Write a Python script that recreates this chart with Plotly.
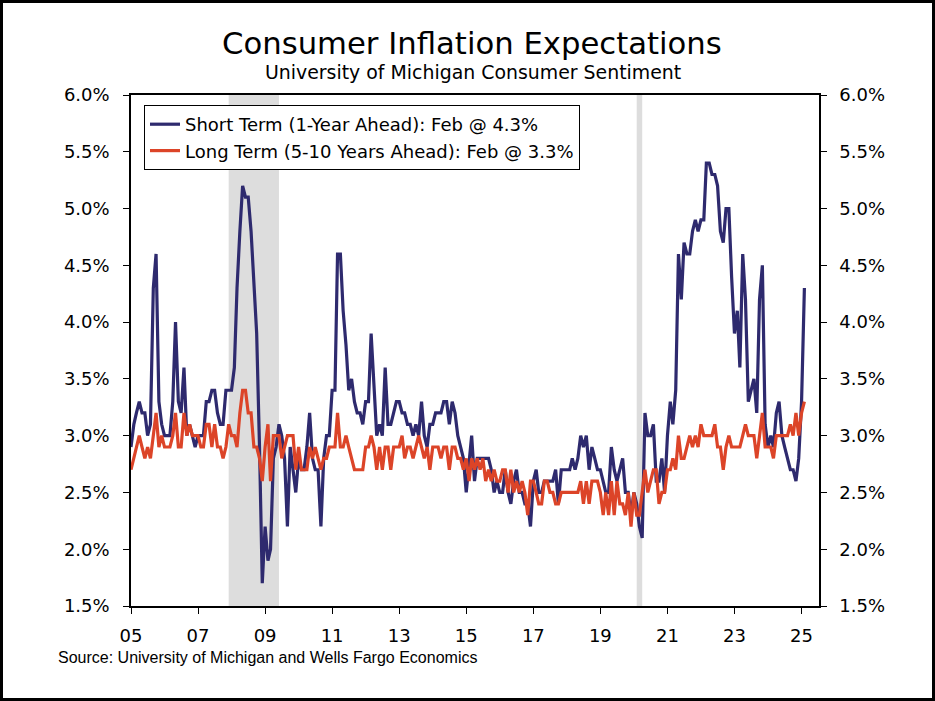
import pandas as pd
import plotly.graph_objects as go

# ---------------- data (monthly, Jan 2005 - Feb 2025) ----------------
short_term = [
    2.9, 3.1, 3.2, 3.3, 3.2, 3.2, 3.0, 3.1, 4.3, 4.6, 3.3, 3.1,   # 2005
    3.0, 3.0, 3.0, 3.3, 4.0, 3.3, 3.2, 3.6, 3.0, 3.1, 3.0, 2.9,   # 2006
    3.0, 3.0, 3.0, 3.3, 3.3, 3.4, 3.4, 3.2, 3.1, 3.1, 3.4, 3.4,   # 2007
    3.4, 3.6, 4.3, 4.8, 5.2, 5.1, 5.1, 4.8, 4.3, 3.9, 2.9, 1.7,   # 2008
    2.2, 1.9, 2.0, 2.8, 2.9, 3.1, 3.0, 2.8, 2.2, 2.9, 2.7, 2.5,   # 2009
    2.8, 2.7, 2.7, 2.9, 3.2, 2.8, 2.7, 2.7, 2.2, 2.8, 3.0, 3.0,   # 2010
    3.4, 3.4, 4.6, 4.6, 4.1, 3.8, 3.4, 3.5, 3.3, 3.2, 3.2, 3.1,   # 2011
    3.3, 3.3, 3.9, 3.4, 3.0, 3.1, 3.0, 3.6, 3.1, 3.1, 3.2, 3.3,   # 2012
    3.3, 3.2, 3.2, 3.1, 3.1, 3.0, 3.1, 3.0, 3.3, 3.0, 2.9, 3.1,   # 2013
    3.1, 3.2, 3.2, 3.2, 3.3, 3.3, 3.1, 3.3, 3.2, 3.0, 2.9, 2.8,   # 2014
    2.5, 2.8, 3.0, 2.6, 2.8, 2.8, 2.8, 2.8, 2.8, 2.7, 2.5, 2.6,   # 2015
    2.5, 2.5, 2.7, 2.5, 2.4, 2.6, 2.7, 2.5, 2.5, 2.4, 2.4, 2.2,   # 2016
    2.6, 2.7, 2.5, 2.5, 2.6, 2.6, 2.6, 2.6, 2.7, 2.4, 2.7, 2.7,   # 2017
    2.7, 2.7, 2.8, 2.7, 2.8, 3.0, 2.9, 3.0, 2.7, 2.9, 2.8, 2.7,   # 2018
    2.7, 2.6, 2.5, 2.5, 2.9, 2.7, 2.6, 2.7, 2.8, 2.5, 2.5, 2.3,   # 2019
    2.5, 2.4, 2.2, 2.1, 3.2, 3.0, 3.0, 3.1, 2.6, 2.6, 2.8, 2.5,   # 2020
    3.0, 3.3, 3.1, 3.4, 4.6, 4.2, 4.7, 4.6, 4.6, 4.8, 4.9, 4.8,   # 2021
    4.9, 4.9, 5.4, 5.4, 5.3, 5.3, 5.2, 4.8, 4.7, 5.0, 5.0, 4.4,   # 2022
    3.9, 4.1, 3.6, 4.6, 4.2, 3.3, 3.4, 3.5, 3.2, 4.2, 4.5, 3.1,   # 2023
    2.9, 3.0, 2.9, 3.2, 3.3, 3.0, 2.9, 2.8, 2.7, 2.7, 2.6, 2.8,   # 2024
    3.3, 4.3,                                                     # 2025
]

long_term = [
    2.7, 2.8, 2.9, 3.0, 2.9, 2.8, 2.9, 2.8, 3.0, 3.2, 2.9, 3.0,   # 2005
    2.9, 2.9, 2.9, 3.0, 3.2, 2.9, 2.9, 3.2, 3.0, 3.1, 3.0, 3.0,   # 2006
    3.0, 2.9, 2.9, 3.1, 3.1, 2.9, 3.1, 2.9, 2.9, 2.8, 2.9, 3.1,   # 2007
    3.0, 3.0, 2.9, 3.2, 3.4, 3.4, 3.2, 3.2, 2.9, 2.9, 2.8, 2.6,   # 2008
    2.9, 3.1, 2.6, 3.0, 3.0, 3.0, 2.8, 2.9, 3.0, 3.0, 3.0, 2.7,   # 2009
    2.9, 2.7, 2.7, 2.7, 2.9, 2.8, 2.9, 2.8, 2.7, 2.8, 2.8, 2.9,   # 2010
    2.9, 2.9, 3.2, 2.9, 2.9, 3.0, 2.9, 2.8, 2.7, 2.7, 2.7, 2.7,   # 2011
    2.9, 2.9, 3.0, 2.9, 2.7, 2.9, 2.7, 2.9, 2.9, 2.7, 2.9, 2.9,   # 2012
    2.9, 3.0, 2.8, 2.9, 2.9, 2.8, 2.9, 3.0, 2.9, 2.8, 2.9, 2.7,   # 2013
    2.9, 2.9, 2.9, 2.8, 2.9, 2.9, 2.7, 2.9, 2.9, 2.8, 2.8, 2.7,   # 2014
    2.8, 2.6, 2.8, 2.7, 2.8, 2.7, 2.8, 2.6, 2.7, 2.6, 2.7, 2.6,   # 2015
    2.6, 2.7, 2.7, 2.5, 2.7, 2.5, 2.6, 2.5, 2.6, 2.5, 2.3, 2.6,   # 2016
    2.6, 2.5, 2.4, 2.4, 2.6, 2.6, 2.5, 2.5, 2.4, 2.4, 2.5, 2.5,   # 2017
    2.5, 2.5, 2.5, 2.5, 2.5, 2.6, 2.4, 2.6, 2.4, 2.6, 2.6, 2.6,   # 2018
    2.5, 2.3, 2.5, 2.3, 2.6, 2.3, 2.6, 2.4, 2.4, 2.3, 2.5, 2.2,   # 2019
    2.5, 2.3, 2.3, 2.5, 2.7, 2.5, 2.6, 2.7, 2.7, 2.4, 2.5, 2.5,   # 2020
    2.7, 2.7, 2.8, 2.7, 3.0, 2.8, 2.8, 2.9, 3.0, 2.9, 3.0, 2.9,   # 2021
    3.1, 3.0, 3.0, 3.0, 3.0, 3.1, 2.9, 2.9, 2.7, 2.9, 3.0, 2.9,   # 2022
    2.9, 2.9, 2.9, 3.0, 3.1, 3.0, 3.0, 3.0, 2.8, 3.0, 3.2, 2.9,   # 2023
    2.9, 2.9, 2.8, 3.0, 3.0, 3.0, 3.0, 3.0, 3.1, 3.0, 3.2, 3.0,   # 2024
    3.2, 3.3,                                                     # 2025
]

dates = pd.date_range("2005-01-01", periods=len(short_term), freq="MS")

x_tick_vals = [f"{y}-01-01" for y in range(2005, 2026, 2)]
x_tick_text = ["05", "07", "09", "11", "13", "15", "17", "19", "21", "23", "25"]
y_tick_vals = [1.5, 2.0, 2.5, 3.0, 3.5, 4.0, 4.5, 5.0, 5.5, 6.0]
y_tick_text = ["1.5%", "2.0%", "2.5%", "3.0%", "3.5%", "4.0%", "4.5%", "5.0%", "5.5%", "6.0%"]

recessions = [("2007-12-01", "2009-06-01"), ("2020-02-01", "2020-04-01")]

short_name = "Short Term (1-Year Ahead): Feb @ 4.3%"
long_name = "Long Term (5-10 Years Ahead): Feb @ 3.3%"

# ---------------- styling ----------------
BLUE = "#2E2A6E"
RED = "#DC4428"
FONT = "DejaVu Sans"
X_RANGE = ["2005-01-01", "2025-07-10"]
Y_RANGE = [1.5, 6.0]

W, H = 935, 701
L, R, T, B = 131, 116, 95, 95
PW, PH = W - L - R, H - T - B


def px_x(px):
    return (px - L) / PW


def px_y(py):
    return (H - B - py) / PH


fig = go.Figure()
fig.add_trace(go.Scatter(x=dates, y=short_term, mode="lines", name=short_name,
                         line=dict(color=BLUE, width=3.2), xaxis="x", yaxis="y"))
fig.add_trace(go.Scatter(x=dates, y=long_term, mode="lines", name=long_name,
                         line=dict(color=RED, width=3.2), xaxis="x", yaxis="y2"))

for start, end in recessions:
    fig.add_shape(type="rect", xref="x", yref="paper", x0=start, x1=end, y0=0, y1=1,
                  fillcolor="#DDDDDD", line=dict(width=0), layer="below")

# outer frame of the picture
fig.add_shape(type="rect", xref="paper", yref="paper",
              x0=px_x(1.5), x1=px_x(W - 1.5), y0=px_y(H - 1.5), y1=px_y(1.5),
              line=dict(color="black", width=3), fillcolor="rgba(0,0,0,0)")

tickfont = dict(family=FONT, size=18, color="black")

fig.update_layout(
    width=W, height=H,
    margin=dict(l=L, r=R, t=T, b=B, pad=0),
    paper_bgcolor="white", plot_bgcolor="white",
    showlegend=True,
    legend=dict(x=px_x(144), y=px_y(105), xanchor="left", yanchor="top",
                bgcolor="white", bordercolor="black", borderwidth=1,
                font=dict(family=FONT, size=18, color="black"),
                itemwidth=30, tracegroupgap=0),
    xaxis=dict(type="date", range=X_RANGE, tickvals=x_tick_vals, ticktext=x_tick_text,
               ticks="outside", ticklen=6, tickwidth=1.2, tickcolor="black",
               showline=True, linecolor="black", linewidth=1.5, mirror=True,
               showgrid=False, zeroline=False, tickfont=tickfont,
               ticklabelstandoff=7, anchor="y"),
    xaxis2=dict(type="date", range=X_RANGE, tickvals=x_tick_vals, overlaying="x",
                side="bottom", anchor="y", ticks="inside", ticklen=6, tickwidth=1.2,
                tickcolor="black", showticklabels=False, showline=False,
                showgrid=False, zeroline=False),
    yaxis=dict(range=Y_RANGE, tickvals=y_tick_vals, ticktext=y_tick_text,
               ticks="outside", ticklen=6, tickwidth=1.2, tickcolor="black",
               showline=True, linecolor="black", linewidth=1.5,
               showgrid=False, zeroline=False, tickfont=tickfont,
               ticklabelstandoff=10, anchor="x"),
    yaxis2=dict(range=Y_RANGE, tickvals=y_tick_vals, ticktext=y_tick_text,
                overlaying="y", side="right", anchor="x",
                ticks="outside", ticklen=6, tickwidth=1.2, tickcolor="black",
                showline=True, linecolor="black", linewidth=1.5,
                showgrid=False, zeroline=False, tickfont=tickfont,
                ticklabelstandoff=9),
    yaxis3=dict(range=Y_RANGE, tickvals=y_tick_vals, overlaying="y", side="left",
                anchor="x", ticks="inside", ticklen=6, tickwidth=1.2, tickcolor="black",
                showticklabels=False, showline=False, showgrid=False, zeroline=False),
    yaxis4=dict(range=Y_RANGE, tickvals=y_tick_vals, overlaying="y", side="right",
                anchor="x", ticks="inside", ticklen=6, tickwidth=1.2, tickcolor="black",
                showticklabels=False, showline=False, showgrid=False, zeroline=False),
)

fig.add_annotation(text="Consumer Inflation Expectations", xref="paper", yref="paper",
                   x=px_x(472), y=px_y(44), xanchor="center", yanchor="middle",
                   showarrow=False, font=dict(family=FONT, size=30.7, color="black"))
fig.add_annotation(text="University of Michigan Consumer Sentiment", xref="paper", yref="paper",
                   x=px_x(473), y=px_y(72), xanchor="center", yanchor="middle",
                   showarrow=False, font=dict(family=FONT, size=18.9, color="black"))
fig.add_annotation(text="Source: University of Michigan and Wells Fargo Economics",
                   xref="paper", yref="paper", x=px_x(56), y=px_y(657),
                   xanchor="left", yanchor="middle", showarrow=False,
                   font=dict(family="Liberation Sans", size=16, color="black"))

fig.write_html("out.html",
               config={"displayModeBar": False},
               post_script="document.body.style.margin='0px';document.body.style.overflow='hidden';")
